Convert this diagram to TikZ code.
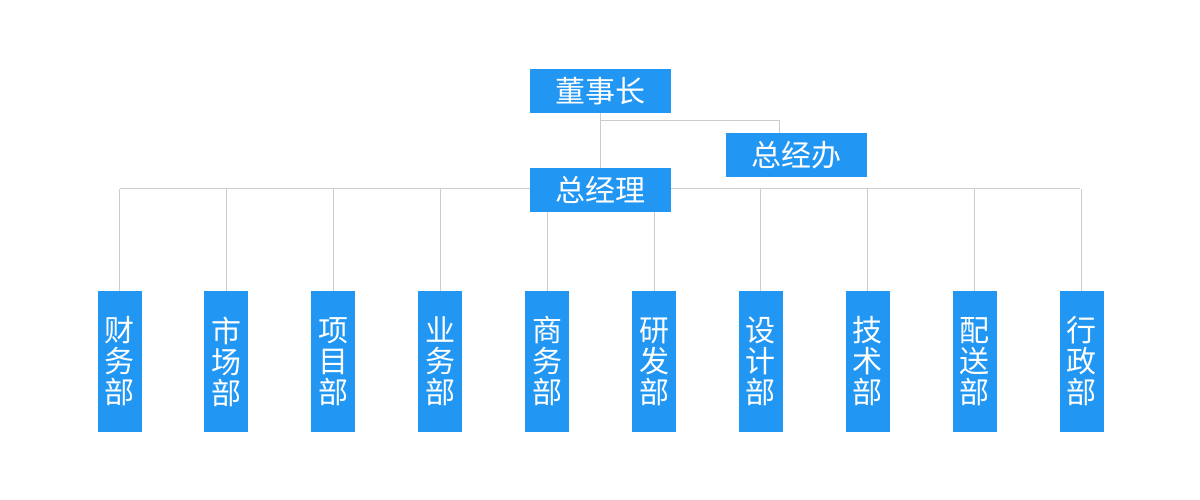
\documentclass[tikz,border=0pt]{standalone}
\usepackage{fontspec}
\newfontfamily\cjk{Noto Sans CJK SC}
\definecolor{boxblue}{HTML}{2196F3}
\definecolor{linegrey}{HTML}{CCCCCC}
\begin{document}
\begin{tikzpicture}[x=1pt,y=-1pt,
  topbox/.style={fill=boxblue, minimum width=141pt, minimum height=44pt, inner sep=0pt, text=white, font=\cjk\fontsize{30}{31}\selectfont},
  deptbox/.style={fill=boxblue, minimum width=44pt, minimum height=141pt, inner sep=0pt, text=white, align=center, font=\cjk\fontsize{30}{31}\selectfont},
  conn/.style={draw=linegrey, line width=1pt}]
\useasboundingbox[fill=white] (0,0) rectangle (1200,500);
\coordinate (br) at (600.5,121);
\coordinate (bz) at (779,121);
\coordinate (hl) at (120,189);
\coordinate (hr) at (1080,189);
\node[topbox] (dsz) at (600.5,91) {董事长};
\node[topbox] (zjb) at (796.5,155) {总经办};
\draw[conn] (dsz.south) -- (br) -- (bz) -- (bz |- zjb.north);
\draw[conn] (hl) -- (hr);
\draw[conn] (br) -- (600.5,168);
\foreach \t [count=\i from 0] in {财\\务\\部,市\\场\\部,项\\目\\部,业\\务\\部,商\\务\\部,研\\发\\部,设\\计\\部,技\\术\\部,配\\送\\部,行\\政\\部}{
  \node[deptbox] (d\i) at ({119.5+106.9*\i},361.5) {\t};
  \draw[conn] (d\i.north) -- (d\i.north |- hl);
}
\node[topbox] (zjl) at (600.5,190) {总经理};
\draw[conn] (dsz.south) -- (zjl.north);
\end{tikzpicture}
\end{document}
